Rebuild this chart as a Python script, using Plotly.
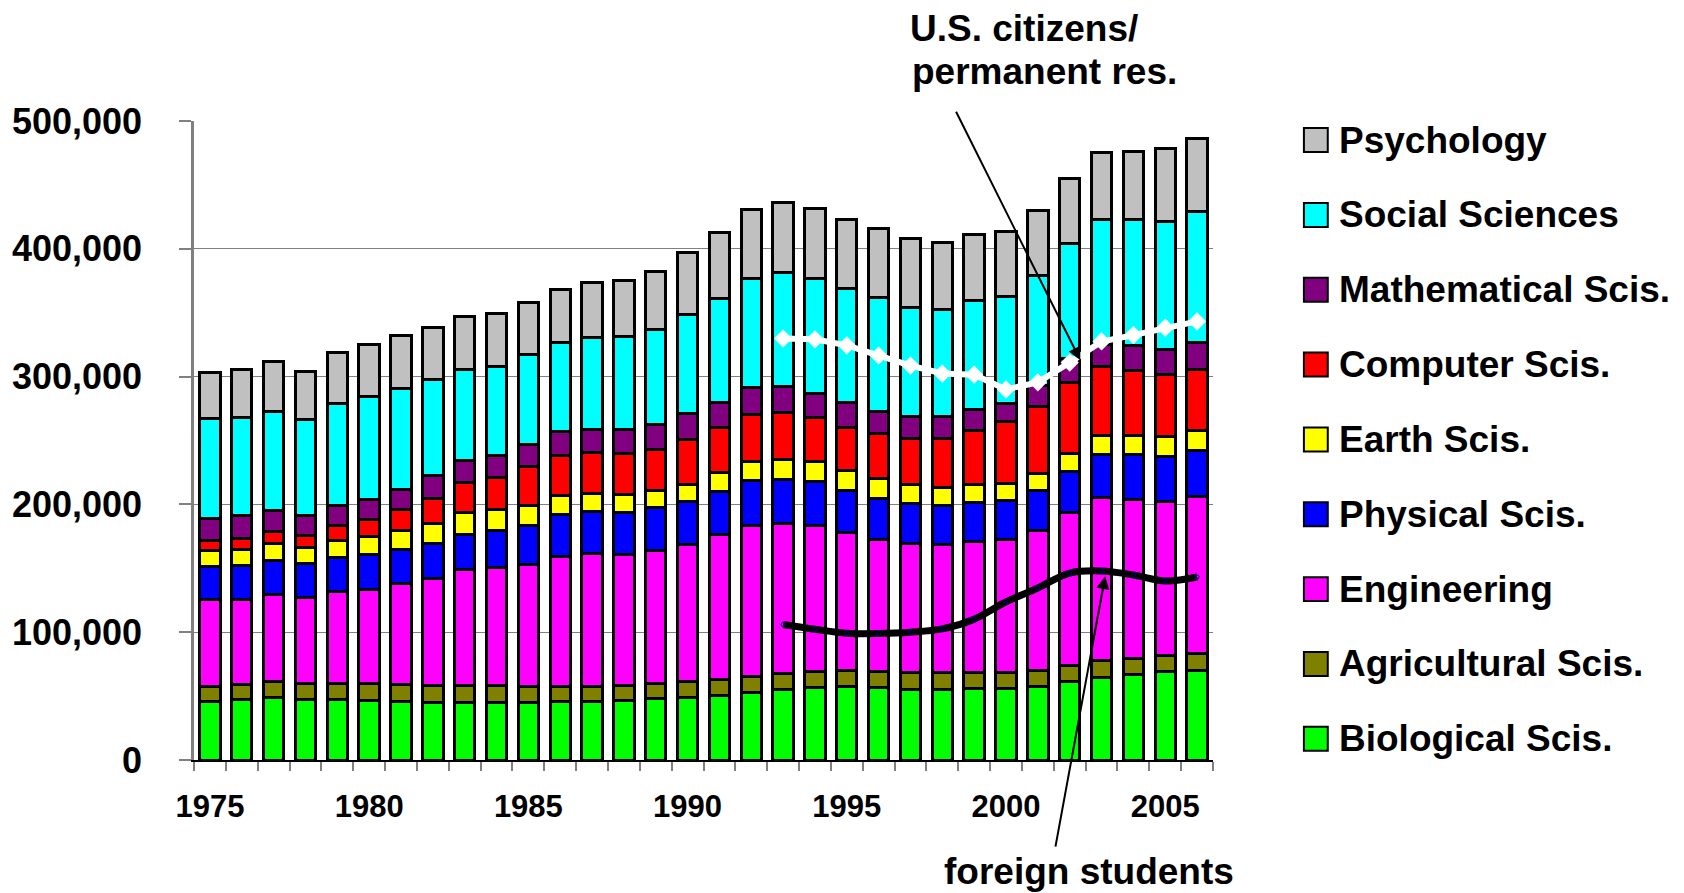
import plotly.graph_objects as go

# ---------------- data (thousands of graduate students) ----------------
years = list(range(1975, 2007))

biological = [45.6, 47.2, 48.8, 47.2, 47.2, 46.7, 45.6, 44.9, 44.9, 44.9, 45.1, 45.6,
              45.7, 46.3, 48.1, 48.7, 50.7, 53.1, 55.2, 56.9, 57.5, 56.9, 55.5, 55.5,
              55.8, 56.1, 57.7, 61.6, 64.9, 66.8, 69.1, 70.1]
agricultural = [11.8, 12.0, 12.7, 12.8, 12.8, 13.3, 13.3, 13.2, 13.2, 13.2, 12.5, 12.3,
                11.8, 12.1, 12.1, 12.4, 12.1, 12.4, 12.6, 12.7, 12.7, 12.7, 12.9, 12.9,
                12.9, 12.0, 12.0, 12.0, 13.3, 13.0, 13.0, 12.9]
engineering = [67.8, 66.5, 67.8, 67.5, 71.9, 73.8, 79.3, 83.8, 90.8, 92.6, 95.5, 101.7,
               104.2, 102.4, 103.5, 107.3, 113.6, 118.0, 116.9, 113.6, 108.0, 103.0, 101.2, 100.3,
               102.1, 104.1, 109.7, 120.0, 127.1, 123.9, 120.0, 123.0]
physical = [26.6, 26.8, 26.9, 26.6, 26.6, 26.8, 26.9, 27.3, 27.9, 29.2, 30.7, 32.3,
            32.4, 33.0, 33.6, 33.7, 33.9, 35.4, 34.8, 34.5, 33.0, 32.4, 31.0, 30.7,
            31.0, 30.5, 31.4, 31.8, 34.1, 35.4, 35.7, 36.3]
earth = [12.0, 12.6, 13.6, 12.5, 13.6, 14.4, 14.3, 15.9, 16.9, 15.9, 15.7, 15.4,
         14.2, 14.2, 13.6, 13.8, 14.8, 14.7, 15.9, 15.6, 15.6, 15.1, 15.0, 14.2,
         14.1, 13.3, 13.0, 14.6, 14.6, 14.9, 15.5, 15.6]
computer = [8.3, 8.6, 9.1, 9.4, 11.7, 13.3, 16.4, 19.6, 23.2, 25.3, 30.2, 31.3,
            32.4, 31.8, 32.2, 34.8, 35.1, 36.6, 36.9, 34.5, 33.7, 35.1, 36.0, 38.3,
            42.2, 48.7, 52.9, 55.5, 54.1, 50.6, 48.0, 48.0]
mathematical = [16.9, 17.4, 16.7, 15.7, 15.4, 15.4, 15.9, 17.7, 17.3, 17.5, 17.5, 18.2,
                18.3, 19.2, 19.4, 20.1, 19.7, 21.2, 20.3, 19.2, 19.1, 17.7, 17.1, 16.5,
                16.5, 14.2, 16.2, 18.5, 17.2, 19.8, 20.1, 20.4]
social = [78.0, 77.0, 77.4, 75.1, 79.8, 80.8, 79.3, 75.6, 71.4, 69.6, 69.9, 69.9,
          71.7, 72.6, 74.4, 77.9, 81.5, 85.6, 88.5, 89.4, 89.1, 89.0, 85.6, 84.1,
          85.3, 84.1, 86.3, 90.2, 97.3, 98.2, 99.6, 102.8]
psychology = [36.3, 37.2, 38.6, 37.5, 39.9, 40.9, 40.9, 40.5, 41.5, 41.2, 40.9, 41.8,
              43.3, 43.6, 45.7, 48.6, 51.6, 54.0, 55.2, 55.2, 54.3, 54.0, 53.7, 52.8,
              51.6, 50.6, 50.6, 50.9, 52.6, 53.9, 57.4, 57.4]

line_years = list(range(1993, 2007))
us_citizens = [329.8, 329.2, 324.5, 316.5, 308.6, 302.4, 301.5, 290.0, 295.5, 311.0,
               327.5, 332.5, 338.3, 343.2]
foreign_students = [106.0, 102.3, 99.2, 99.0, 100.0, 102.6, 110.2, 123.7, 134.6, 146.3,
                    147.9, 144.8, 140.1, 143.2]

x_tick_labels = [1975, 1980, 1985, 1990, 1995, 2000, 2005]

series_names = ["Biological Scis.", "Agricultural Scis.", "Engineering", "Physical Scis.",
                "Earth Scis.", "Computer Scis.", "Mathematical Scis.", "Social Sciences",
                "Psychology"]
series_values = [biological, agricultural, engineering, physical, earth, computer,
                 mathematical, social, psychology]
series_colors = ["#00FF00", "#808000", "#FF00FF", "#0000FF", "#FFFF00", "#FF0000",
                 "#800080", "#00FFFF", "#C0C0C0"]

FONT = "Liberation Sans, Arial, sans-serif"

# ---------------- pixel geometry helpers ----------------
W, H = 1684, 893
PL, PR, PT, PB = 188, 1213.5, 120.5, 760  # plot area in pixels


def px(xp):
    return (xp - PL) / (PR - PL)


def py(yp):
    return (PB - yp) / (PB - PT)


fig = go.Figure()

for name, vals, color in zip(series_names, series_values, series_colors):
    fig.add_trace(go.Bar(
        x=years, y=[v * 1000 for v in vals], name=name,
        marker=dict(color=color, line=dict(color="black", width=3)),
        showlegend=False,
    ))

fig.add_trace(go.Scatter(
    x=line_years, y=[v * 1000 for v in foreign_students], name="foreign students",
    mode="lines+markers",
    line=dict(color="black", width=7, shape="spline"),
    marker=dict(symbol="circle-open", size=4, color="#000080", line=dict(width=1)),
    showlegend=False,
))
fig.add_trace(go.Scatter(
    x=line_years, y=[v * 1000 for v in us_citizens], name="U.S. citizens/permanent res.",
    mode="lines+markers",
    line=dict(color="white", width=6),
    marker=dict(symbol="diamond", size=14, color="white"),
    showlegend=False,
))

# ---------------- custom legend (large swatches) ----------------
shapes = []
annotations = []
legend_order = list(range(len(series_names)))[::-1]
for i, idx in enumerate(legend_order):
    cy = 139.6 + 74.9 * i
    shapes.append(dict(type="rect", xref="paper", yref="paper",
                       x0=px(1305), x1=px(1329), y0=py(cy + 12), y1=py(cy - 12),
                       fillcolor=series_colors[idx], line=dict(color="black", width=2)))
    annotations.append(dict(xref="paper", yref="paper", x=px(1338), y=py(cy),
                            xanchor="left", yanchor="middle", showarrow=False,
                            text=series_names[idx],
                            font=dict(family=FONT, size=37, color="black", weight="bold")))

# ---------------- text annotations and arrows ----------------
annotations += [
    dict(xref="paper", yref="paper", x=px(907), y=py(28), xanchor="left", yanchor="middle",
         showarrow=False, text="U.S. citizens/",
         font=dict(family=FONT, size=37, color="black", weight="bold")),
    dict(xref="paper", yref="paper", x=px(909), y=py(71), xanchor="left", yanchor="middle",
         showarrow=False, text="permanent res.",
         font=dict(family=FONT, size=37, color="black", weight="bold")),
    dict(xref="paper", yref="paper", x=px(941), y=py(872), xanchor="left", yanchor="middle",
         showarrow=False, text="foreign students",
         font=dict(family=FONT, size=37, color="black", weight="bold")),
    dict(xref="paper", yref="paper", x=px(1080), y=py(360), text="", showarrow=True,
         axref="pixel", ayref="pixel", ax=955 - 1080, ay=110 - 360,
         arrowhead=2, arrowsize=1.3, arrowwidth=2, arrowcolor="black", standoff=0),
    dict(xref="paper", yref="paper", x=px(1105), y=py(576), text="", showarrow=True,
         axref="pixel", ayref="pixel", ax=1055 - 1105, ay=848 - 576,
         arrowhead=2, arrowsize=1.3, arrowwidth=2, arrowcolor="black", standoff=0),
]

fig.update_layout(
    width=W, height=H,
    barmode="stack", bargap=0.36,
    margin=dict(l=PL, r=W - PR, t=PT, b=H - PB, pad=0),
    plot_bgcolor="white", paper_bgcolor="white",
    showlegend=False,
    font=dict(family=FONT, color="black"),
    shapes=shapes, annotations=annotations,
)

fig.update_xaxes(
    range=[1974.5, 2006.5],
    tickmode="array", tickvals=x_tick_labels, ticks="",
    tickfont=dict(family=FONT, size=31, color="black", weight="bold"),
    ticklabelstandoff=18,
    showline=True, linecolor="black", linewidth=1.5,
    showgrid=False, zeroline=False,
    minor=dict(tickmode="array", tickvals=[y - 0.5 for y in years] + [years[-1] + 0.5],
               ticks="outside", ticklen=9, tickwidth=1.5, tickcolor="#808080",
               showgrid=False),
)
fig.update_yaxes(
    range=[0, 500000], tickmode="linear", tick0=0, dtick=100000, tickformat=",d",
    ticks="outside", ticklen=12, tickwidth=1.5, tickcolor="#808080",
    showline=True, linecolor="#808080", linewidth=2.5,
    showgrid=True, gridcolor="#808080", gridwidth=1, zeroline=False,
    tickfont=dict(family=FONT, size=36, color="black", weight="bold"),
    ticklabelstandoff=30,
)

fig.write_html("out.html",
               config={"displayModeBar": False},
               post_script="document.body.style.margin='0';document.body.style.overflow='hidden';")
